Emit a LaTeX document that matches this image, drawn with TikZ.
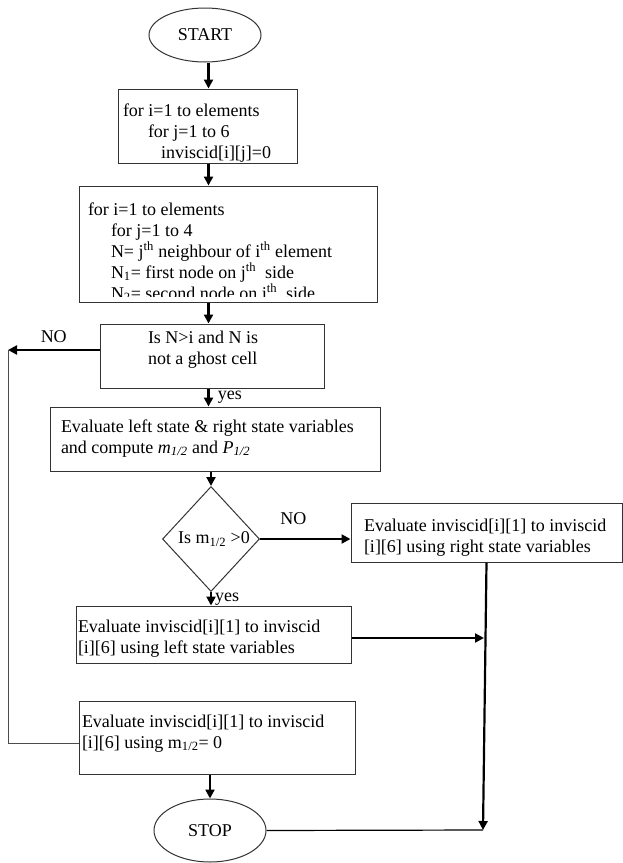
\documentclass[tikz,border=0pt]{standalone}
\usepackage{fontspec}
\setmainfont{Liberation Serif}
\usetikzlibrary{shapes.geometric,arrows.meta}

% box text: height, width, left pad, first baseline, lines
\newcommand{\boxtext}[5]{\parbox[c][#1][t]{#2}{\leftskip=#3\relax\rule{0pt}{#4}#5}}

\begin{document}
\begin{tikzpicture}[x=1pt,y=-1pt,
    font=\fontsize{18}{21}\selectfont,
    >={Triangle[length=9pt,width=9pt]},
    box/.style={draw=black!80,line width=1pt,inner sep=0pt},
    term/.style={box,ellipse,minimum width=112pt},
    decision/.style={box,diamond,minimum width=97pt,minimum height=105pt},
    flow/.style={->,line width=2.2pt},
    loopline/.style={draw=black!70,line width=1pt}]
    \useasboundingbox (0,0) rectangle (623,863);
    \clip (0,0) rectangle (623,863);

    \node[term,minimum height=54pt] (start) at (205,35) {START};
    \node[box] (init) at (207.5,126) {\boxtext{74pt}{179pt}{5pt}{27pt}{for i=1 to elements\\
        \hspace*{25pt}for j=1 to 6\\
        \hspace*{38pt}inviscid[i][j]=0}};
    \node[box] (loop) at (228,244) {\boxtext{116pt}{298pt}{9pt}{29pt}{for i=1 to elements\\
        \hspace*{23pt}for j=1 to 4\\
        \hspace*{23pt}N= j\textsuperscript{th} neighbour of i\textsuperscript{th} element\\
        \hspace*{23pt}N\textsubscript{1}= first node on j\textsuperscript{th}\ \ side\\
        \hspace*{23pt}N\textsubscript{2}= second node on j\textsuperscript{th}\ \ side}};
    % last line is cut off by the frame
    \fill[white] ([shift={(1,-5.5)}]loop.south west) rectangle ([shift={(-1,12)}]loop.south east);
    \draw[box] (loop.south west) -- (loop.south east);
    \node[box] (test) at (212,356) {\boxtext{64pt}{224pt}{48pt}{19pt}{Is N>i and N is\\not a ghost cell}};
    \node[box] (flux) at (215,439) {\boxtext{64pt}{330pt}{11pt}{25pt}{Evaluate left state \& right state variables\\
        and compute \textit{m}\textsubscript{\textit{1/2}} and \textit{P}\textsubscript{\textit{1/2}}}};
    \node[decision] (sign) at (211,539) {\hspace*{6pt}Is m\textsubscript{1/2} >0};
    \node[box] (rstate) at (486.5,532.5) {\boxtext{59pt}{271pt}{13pt}{28pt}{Evaluate inviscid[i][1] to inviscid\\{}[i][6] using right state variables}};
    \node[box] (lstate) at (213.5,634.5) {\boxtext{57pt}{275pt}{2pt}{26pt}{Evaluate inviscid[i][1] to inviscid\\{}[i][6] using left state variables}};
    \node[box] (zero) at (217,737.5) {\boxtext{73pt}{276pt}{3pt}{26pt}{Evaluate inviscid[i][1] to inviscid\\{}[i][6] using m\textsubscript{1/2}= 0}};
    \node[term,minimum height=63pt] (stop) at (210,830.5) {STOP};

    \coordinate (spine) at (208.5,0);
    \coordinate (back) at (8,350);
    \coordinate (corner) at (8,743);
    \coordinate (meet) at (484,638);
    \coordinate (join) at (483,830);

    \draw[flow] (spine |- start.south) -- (spine |- init.north);
    \draw[flow] (spine |- init.south) -- (spine |- loop.north);
    \draw[flow] (spine |- loop.south) -- (spine |- test.north);
    \draw[flow] (spine |- test.south) -- node[right,xshift=5pt] {yes} (spine |- flux.north);
    \draw[flow] (sign.north |- flux.south) -- (sign.north);
    \draw[flow] (sign.east) -- node[above=10pt,pos=0.37] {NO} (sign.east -| rstate.west);
    \draw[flow] (sign.south) -- node[right,inner sep=3pt] {yes} (sign.south |- lstate.north);
    \draw[flow] (back -| test.west) -- node[above=3pt] {NO} (back);
    \draw[loopline] (back) -- (corner) -- (corner -| zero.west);
    \draw[flow] (rstate.south) -- (join);
    \draw[flow] (meet -| lstate.east) -- (meet);
    \draw[flow] (stop.north |- zero.south) -- (stop.north);
    \draw[line width=1.2pt] (stop.east) -- (join);
  \end{tikzpicture}
\end{document}
